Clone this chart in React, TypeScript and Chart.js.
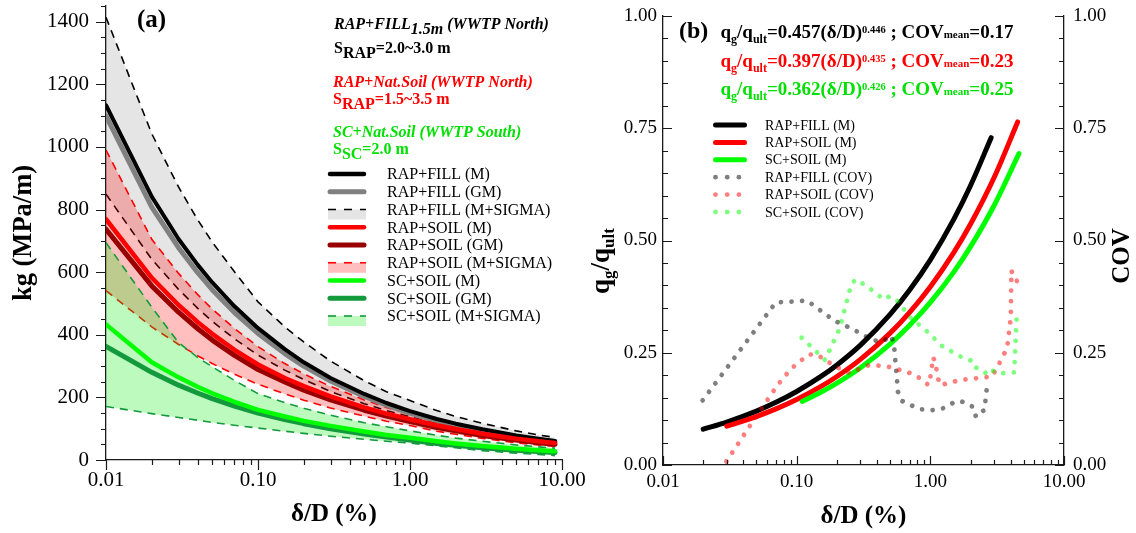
import React, { useEffect, useRef } from "react";
import { Chart, registerables } from "chart.js";

Chart.register(...registerables);

const SERIF = '"Liberation Serif", "Times New Roman", Times, serif';
const AXIS = "#1a1a1a";

// ---------- Panel (a): kg against δ/D ----------
const kgX = [0.01, 0.02, 0.03, 0.04, 0.05, 0.07, 0.1, 0.15, 0.2, 0.3, 0.5, 0.7, 1, 1.5, 2, 3, 5, 7, 9];
const fillM = [1133, 841, 706, 624, 567, 491, 421, 354, 312, 262, 211, 182, 156, 131, 116, 98, 78, 68, 61];
const fillGM = [1099, 808, 678, 599, 544, 471, 404, 340, 300, 252, 203, 175, 150, 126, 111, 94, 75, 65, 58];
const fillUp = [1414, 1042, 872, 768, 696, 601, 505, 425, 377, 316, 253, 218, 190, 158, 139, 117, 93, 80, 72];
const fillLo = [849, 641, 545, 485, 443, 387, 335, 287, 257, 219, 180, 158, 138, 115, 102, 85, 68, 59, 52];
const soilM = [769, 582, 495, 441, 403, 352, 305, 262, 236, 203, 168, 148, 130, 111, 99, 84, 68, 60, 54];
const soilGM = [737, 556, 472, 420, 383, 334, 289, 249, 223, 192, 159, 140, 123, 104, 93, 78, 64, 55, 50];
const soilUp = [990, 705, 596, 529, 482, 420, 362, 308, 275, 235, 192, 168, 146, 125, 112, 96, 79, 69, 63];
const soilLo = [541, 425, 369, 333, 308, 274, 242, 211, 191, 166, 140, 124, 110, 92, 82, 69, 55, 48, 43];
const scM = [433, 312, 264, 234, 213, 186, 160, 139, 125, 109, 91, 80, 71, 60, 53, 45, 36, 31, 28];
const scGM = [363, 280, 239, 214, 196, 172, 150, 129, 116, 100, 83, 73, 64, 53, 47, 39, 31, 27, 24];
const scUp = [694, 488, 375, 328, 298, 254, 212, 183, 165, 143, 119, 106, 93, 79, 70, 60, 48, 42, 38];
const scLo = [171, 148, 136, 127, 120, 111, 102, 92, 85, 76, 66, 60, 54, 45, 39, 30, 22, 18, 14];

// ---------- Panel (b): qg/qult and COV against δ/D ----------
const fillQX = [0.02, 0.03, 0.05, 0.07, 0.1, 0.15, 0.2, 0.3, 0.5, 0.7, 1, 1.5, 2, 2.85];
const fillQ = [0.0798, 0.0957, 0.1201, 0.1396, 0.1637, 0.1961, 0.2229, 0.2671, 0.3355, 0.3898, 0.457, 0.5476, 0.6225, 0.729];
const soilQX = [0.03, 0.05, 0.07, 0.1, 0.15, 0.2, 0.3, 0.5, 0.7, 1, 1.5, 2, 3, 4.5];
const soilQ = [0.0864, 0.1079, 0.1249, 0.1458, 0.1739, 0.1971, 0.2352, 0.2937, 0.34, 0.397, 0.4736, 0.5367, 0.6402, 0.764];
const scQX = [0.11, 0.15, 0.2, 0.3, 0.5, 0.7, 1, 1.5, 2, 3, 4.6];
const scQ = [0.1414, 0.1613, 0.1824, 0.2168, 0.2694, 0.311, 0.362, 0.4302, 0.4863, 0.578, 0.6935];

const fillCovX = [0.0198, 0.0698, 0.12, 0.19, 0.265, 0.37, 0.44, 0.51, 0.535, 0.573, 0.61, 0.72, 0.85, 1.02, 1.22, 1.42, 1.62, 1.79, 2.1, 2.19, 2.24, 2.54, 2.64, 2.77];
const fillCov = [0.144, 0.362, 0.366, 0.322, 0.302, 0.278, 0.275, 0.288, 0.267, 0.163, 0.143, 0.133, 0.124, 0.122, 0.125, 0.136, 0.143, 0.14, 0.129, 0.108, 0.114, 0.122, 0.169, 0.169];
const soilCovX = [0.0298, 0.0463, 0.0715, 0.0906, 0.122, 0.142, 0.195, 0.25, 0.35, 0.42, 0.5, 0.72, 0.84, 0.97, 1.0, 1.05, 1.1, 1.13, 1.18, 1.39, 1.65, 2.2, 2.9, 3.3, 3.75, 4.0, 4.04, 4.3, 4.44];
const soilCov = [0.008, 0.094, 0.177, 0.214, 0.246, 0.246, 0.219, 0.205, 0.223, 0.221, 0.218, 0.204, 0.193, 0.178, 0.195, 0.24, 0.223, 0.198, 0.178, 0.183, 0.189, 0.193, 0.197, 0.228, 0.26, 0.33, 0.433, 0.414, 0.41];
const scCovX = [0.109, 0.163, 0.178, 0.21, 0.245, 0.258, 0.281, 0.38, 0.445, 0.5, 0.56, 0.705, 0.94, 1.24, 1.72, 2.04, 2.12, 2.4, 2.69, 2.93, 3.23, 4.24, 4.35, 4.42, 4.64];
const scCov = [0.2835, 0.234, 0.258, 0.305, 0.381, 0.405, 0.4135, 0.386, 0.369, 0.376, 0.3675, 0.329, 0.298, 0.2635, 0.24, 0.232, 0.218, 0.214, 0.2, 0.21, 0.204, 0.2065, 0.28, 0.324, 0.302];

// ---------- axis tick labels ----------
const decadeTicks = [0.01, 0.1, 1, 10];
const kgTicks = [0, 200, 400, 600, 800, 1000, 1200, 1400];
const ratioTicks = [0, 0.25, 0.5, 0.75, 1];

// ---------- colours ----------
const FILL_GRAY = "rgba(0,0,0,0.10)";
const FILL_RED = "rgba(255,0,0,0.25)";
const FILL_GREEN = "rgba(0,235,0,0.26)";
const GRAY = "#808080";
const DARK_RED = "#990000";
const DARK_GREEN = "#139a3c";
const LIME = "#00ff00";
const TEXT_GREEN = "#00e000";

const pts = (xs: number[], ys: number[]) => xs.map((x, i) => ({ x, y: ys[i] }));

function logMinors(): number[] {
  const out: number[] = [];
  for (const d of [0.01, 0.1, 1]) for (let k = 2; k <= 9; k++) out.push(+(d * k).toPrecision(3));
  return out;
}
function linMinors(count: number, step: number, every: number): number[] {
  const out: number[] = [];
  for (let i = 1; i <= count; i++) if (i % every !== 0) out.push(+(i * step).toFixed(4));
  return out;
}

const fixBox = (size: number) => (scale: any) => {
  if (scale.isHorizontal()) scale.height = size;
  else scale.width = size;
  scale.paddingLeft = 0;
  scale.paddingRight = 0;
  scale.paddingTop = 0;
  scale.paddingBottom = 0;
};
const setTicks = (values: number[]) => (scale: any) => {
  scale.ticks = values.map((v) => ({ value: v }));
};

type TickSpec = { id: string; major: number[]; minor: number[]; inward: boolean; majorLen: number; minorLen: number };
const tickMarks = (specs: TickSpec[]) => ({
  id: "tickMarks",
  afterDraw(chart: any) {
    const { ctx, chartArea } = chart;
    ctx.save();
    ctx.strokeStyle = AXIS;
    ctx.lineWidth = 1.2;
    ctx.beginPath();
    for (const s of specs) {
      const sc = chart.scales[s.id];
      const list: [number, number][] = [
        ...s.major.map((v) => [v, s.majorLen] as [number, number]),
        ...s.minor.map((v) => [v, s.minorLen] as [number, number]),
      ];
      for (const [v, len] of list) {
        const p = Math.round(sc.getPixelForValue(v)) + 0.5;
        if (sc.isHorizontal()) {
          const y = chartArea.bottom;
          ctx.moveTo(p, y);
          ctx.lineTo(p, y + (s.inward ? -len : len));
        } else if (sc.position === "left") {
          const x = chartArea.left;
          ctx.moveTo(x, p);
          ctx.lineTo(x + (s.inward ? len : -len), p);
        } else {
          const x = chartArea.right;
          ctx.moveTo(x, p);
          ctx.lineTo(x + (s.inward ? -len : len), p);
        }
      }
    }
    ctx.stroke();
    ctx.restore();
  },
});

type Run = { t: string; size: number; style?: string; dy?: number };
function drawRuns(ctx: CanvasRenderingContext2D, x: number, y: number, runs: Run[], color: string) {
  let cx = x;
  ctx.fillStyle = color;
  ctx.textBaseline = "alphabetic";
  ctx.textAlign = "left";
  for (const r of runs) {
    ctx.font = `${r.style ?? "bold"} ${r.size}px ${SERIF}`;
    ctx.fillText(r.t, cx, y + (r.dy ?? 0));
    cx += ctx.measureText(r.t).width;
  }
  return cx - x;
}
function runsWidth(ctx: CanvasRenderingContext2D, runs: Run[]) {
  let w = 0;
  for (const r of runs) {
    ctx.font = `${r.style ?? "bold"} ${r.size}px ${SERIF}`;
    w += ctx.measureText(r.t).width;
  }
  return w;
}

type LegendRow = { label: string; ds: number; box?: string; dots?: boolean };
type LegendGeom = { x0: number; x1: number; textX: number; y0: number; step: number; size: number };
function drawLegend(chart: any, rows: LegendRow[], g: LegendGeom) {
  const ctx: CanvasRenderingContext2D = chart.ctx;
  rows.forEach((r, i) => {
    const y = g.y0 + i * g.step;
    const d: any = chart.data.datasets[r.ds];
    ctx.save();
    if (r.box) {
      ctx.fillStyle = r.box;
      ctx.fillRect(g.x0 - 2, y, g.x1 - g.x0 + 4, 10);
    }
    if (r.dots) {
      ctx.fillStyle = d.borderColor;
      for (let k = 0; k < 3; k++) {
        ctx.beginPath();
        ctx.arc(g.x0 + k * 11.7, y, 2.4, 0, Math.PI * 2);
        ctx.fill();
      }
    } else if (d.borderDash && d.borderDash.length) {
      ctx.strokeStyle = d.borderColor;
      ctx.lineWidth = d.borderWidth;
      ctx.setLineDash([8, 8]);
      ctx.beginPath();
      ctx.moveTo(g.x0 - 2, y);
      ctx.lineTo(g.x1 + 2, y);
      ctx.stroke();
    } else {
      ctx.strokeStyle = d.borderColor;
      ctx.lineWidth = Math.max(d.borderWidth, 4.5);
      ctx.lineCap = "round";
      ctx.beginPath();
      ctx.moveTo(g.x0, y);
      ctx.lineTo(g.x1, y);
      ctx.stroke();
    }
    ctx.setLineDash([]);
    ctx.fillStyle = "#000";
    ctx.font = `${g.size}px ${SERIF}`;
    ctx.textBaseline = "alphabetic";
    ctx.textAlign = "left";
    ctx.fillText(r.label, g.textX, y + g.size * 0.33);
    ctx.restore();
  });
}

const solid = (label: string, data: any[], color: string, width: number, order: number, extra: any = {}) => ({
  label,
  data,
  borderColor: color,
  backgroundColor: color,
  borderWidth: width,
  pointRadius: 0,
  fill: false,
  order,
  tension: 0,
  borderCapStyle: "round",
  borderJoinStyle: "round",
  ...extra,
});
const dashed = (label: string, data: any[], color: string, order: number, fill: any = false, bg = "transparent") => ({
  label,
  data,
  borderColor: color,
  backgroundColor: bg,
  borderWidth: 1.6,
  borderDash: [8, 6],
  pointRadius: 0,
  fill,
  order,
  tension: 0,
});
const dotted = (label: string, data: any[], color: string, order: number) => ({
  label,
  data,
  yAxisID: "y2",
  borderColor: color,
  backgroundColor: color,
  borderWidth: 4.8,
  borderDash: [0.01, 10.6],
  borderCapStyle: "round",
  borderJoinStyle: "round",
  pointRadius: 0,
  fill: false,
  order,
  tension: 0,
});

const tickFont = (size: number) => ({ size, family: SERIF });
const titleFont = { size: 25, weight: "bold" as const, family: SERIF };

function configA(): any {
  const datasets = [
    dashed("RAP+FILL (M+SIGMA)", pts(kgX, fillUp), "#000", 90),
    dashed("RAP+FILL (M-SIGMA)", pts(kgX, fillLo), "#000", 91, "-1", FILL_GRAY),
    dashed("RAP+SOIL (M+SIGMA)", pts(kgX, soilUp), "#ff0000", 81),
    dashed("RAP+SOIL (M-SIGMA)", pts(kgX, soilLo), "#ff0000", 82, "-1", FILL_RED),
    dashed("SC+SOIL (M+SIGMA)", pts(kgX, scUp), DARK_GREEN, 71),
    dashed("SC+SOIL (M-SIGMA)", pts(kgX, scLo), DARK_GREEN, 72, "-1", FILL_GREEN),
    solid("RAP+FILL (GM)", pts(kgX, fillGM), GRAY, 5, 60),
    solid("RAP+FILL (M)", pts(kgX, fillM), "#000", 4, 59),
    solid("RAP+SOIL (GM)", pts(kgX, soilGM), DARK_RED, 5, 58),
    solid("RAP+SOIL (M)", pts(kgX, soilM), "#ff0000", 4.5, 57),
    solid("SC+SOIL (GM)", pts(kgX, scGM), DARK_GREEN, 5, 56),
    solid("SC+SOIL (M)", pts(kgX, scM), LIME, 4.5, 55),
  ];
  const legendRows: LegendRow[] = [
    { label: "RAP+FILL (M)", ds: 7 },
    { label: "RAP+FILL (GM)", ds: 6 },
    { label: "RAP+FILL (M+SIGMA)", ds: 0, box: FILL_GRAY },
    { label: "RAP+SOIL (M)", ds: 9 },
    { label: "RAP+SOIL (GM)", ds: 8 },
    { label: "RAP+SOIL (M+SIGMA)", ds: 2, box: FILL_RED },
    { label: "SC+SOIL (M)", ds: 11 },
    { label: "SC+SOIL (GM)", ds: 10 },
    { label: "SC+SOIL (M+SIGMA)", ds: 4, box: FILL_GREEN },
  ];
  const notes = {
    id: "notesA",
    afterDraw(chart: any) {
      const ctx: CanvasRenderingContext2D = chart.ctx;
      ctx.save();
      const bi = "italic bold";
      drawRuns(ctx, 137, 27, [{ t: "(a)", size: 25 }], "#000");
      drawRuns(ctx, 334, 28.5, [
        { t: "RAP+FILL", size: 16, style: bi },
        { t: "1.5m", size: 16, style: bi, dy: 5 },
        { t: " (WWTP North)", size: 16, style: bi },
      ], "#000");
      drawRuns(ctx, 334, 53, [
        { t: "S", size: 16 },
        { t: "RAP", size: 16, dy: 5 },
        { t: "=2.0~3.0 m", size: 16 },
      ], "#000");
      drawRuns(ctx, 333, 86.5, [{ t: "RAP+Nat.Soil (WWTP North)", size: 16, style: bi }], "#ff0000");
      drawRuns(ctx, 333, 104, [
        { t: "S", size: 16 },
        { t: "RAP", size: 16, dy: 5 },
        { t: "=1.5~3.5 m", size: 16 },
      ], "#ff0000");
      drawRuns(ctx, 333, 136.5, [{ t: "SC+Nat.Soil (WWTP South)", size: 16, style: bi }], TEXT_GREEN);
      drawRuns(ctx, 333, 153.5, [
        { t: "S", size: 16 },
        { t: "SC", size: 16, dy: 5 },
        { t: "=2.0 m", size: 16 },
      ], TEXT_GREEN);
      ctx.restore();
      drawLegend(chart, legendRows, { x0: 330, x1: 364, textX: 387, y0: 174, step: 17.75, size: 16 });
    },
  };
  return {
    type: "line",
    data: { datasets },
    options: {
      responsive: false,
      animation: false,
      events: [],
      layout: { padding: { left: 0, right: 28, top: 6, bottom: 0 } },
      plugins: { legend: { display: false }, tooltip: { enabled: false } },
      scales: {
        x: {
          type: "logarithmic",
          min: 0.01,
          max: 10,
          afterBuildTicks: setTicks(decadeTicks),
          afterFit: fixBox(73),
          grid: { display: false, drawTicks: false },
          border: { display: true, color: AXIS, width: 1.3 },
          ticks: { autoSkip: false, maxRotation: 0, padding: 8, color: "#000", font: tickFont(21), callback: (v: any) => Number(v).toFixed(2) },
          title: { display: true, text: "δ/D (%)", color: "#000", font: titleFont, padding: { top: 0, bottom: 3 } },
        },
        y: {
          type: "linear",
          min: 0,
          max: 1450,
          afterBuildTicks: setTicks(kgTicks),
          afterFit: fixBox(106),
          grid: { display: false, drawTicks: false },
          border: { display: true, color: AXIS, width: 1.3 },
          ticks: { autoSkip: false, padding: 17, color: "#000", font: tickFont(21), callback: (v: any) => String(v) },
          title: { display: true, text: "kg (MPa/m)", color: "#000", font: { ...titleFont, size: 26.5 }, padding: { top: 8, bottom: 0 } },
        },
      },
    },
    plugins: [
      tickMarks([
        { id: "x", major: decadeTicks, minor: logMinors(), inward: false, majorLen: 10, minorLen: 5 },
        { id: "y", major: kgTicks, minor: linMinors(29, 50, 4), inward: false, majorLen: 10, minorLen: 5 },
      ]),
      notes,
    ],
  };
}

function configB(): any {
  const datasets = [
    solid("RAP+FILL (M)", pts(fillQX, fillQ), "#000", 5, 10, { cubicInterpolationMode: "monotone" }),
    solid("RAP+SOIL (M)", pts(soilQX, soilQ), "#ff0000", 5, 9, { cubicInterpolationMode: "monotone" }),
    solid("SC+SOIL (M)", pts(scQX, scQ), LIME, 5, 8, { cubicInterpolationMode: "monotone" }),
    dotted("RAP+FILL (COV)", pts(fillCovX, fillCov), "rgba(0,0,0,0.5)", 3),
    dotted("RAP+SOIL (COV)", pts(soilCovX, soilCov), "rgba(255,0,0,0.5)", 2),
    dotted("SC+SOIL (COV)", pts(scCovX, scCov), "rgba(0,255,0,0.5)", 1),
  ];
  const legendRows: LegendRow[] = [
    { label: "RAP+FILL (M)", ds: 0 },
    { label: "RAP+SOIL (M)", ds: 1 },
    { label: "SC+SOIL (M)", ds: 2 },
    { label: "RAP+FILL (COV)", ds: 3, dots: true },
    { label: "RAP+SOIL (COV)", ds: 4, dots: true },
    { label: "SC+SOIL (COV)", ds: 5, dots: true },
  ];
  const equation = (a: string, b: string, cov: string): Run[] => [
    { t: "q", size: 19 },
    { t: "g", size: 12, dy: 5 },
    { t: "/q", size: 19 },
    { t: "ult", size: 12, dy: 5 },
    { t: `=${a}(δ/D)`, size: 19 },
    { t: b, size: 10.5, dy: -5 },
    { t: " ; COV", size: 19 },
    { t: "mean", size: 11 },
    { t: `=${cov}`, size: 19 },
  ];
  const notes = {
    id: "notesB",
    afterDraw(chart: any) {
      const ctx: CanvasRenderingContext2D = chart.ctx;
      ctx.save();
      drawRuns(ctx, 89, 37.5, [{ t: "(b)", size: 24 }], "#000");
      drawRuns(ctx, 130.5, 38, equation("0.457", "0.446", "0.17"), "#000");
      drawRuns(ctx, 130.5, 66.5, equation("0.397", "0.435", "0.23"), "#ff0000");
      drawRuns(ctx, 130.5, 95, equation("0.362", "0.426", "0.25"), TEXT_GREEN);

      // left axis title with subscripts, reading upwards
      const yTitle: Run[] = [
        { t: "q", size: 27 },
        { t: "g", size: 17, dy: 5 },
        { t: "/q", size: 27 },
        { t: "ult", size: 17, dy: 5 },
      ];
      ctx.save();
      ctx.translate(19, 261);
      ctx.rotate(-Math.PI / 2);
      drawRuns(ctx, -runsWidth(ctx, yTitle) / 2, 0, yTitle, "#000");
      ctx.restore();

      // right axis title
      ctx.save();
      ctx.translate(533, 256);
      ctx.rotate(-Math.PI / 2);
      ctx.font = `bold 25px ${SERIF}`;
      ctx.fillStyle = "#000";
      ctx.textAlign = "center";
      ctx.textBaseline = "middle";
      ctx.fillText("COV", 0, 0);
      ctx.restore();
      ctx.restore();
      drawLegend(chart, legendRows, { x0: 125.5, x1: 154.5, textX: 175, y0: 125, step: 17.4, size: 14 });
    },
  };
  const ratioLabel = (v: any) => Number(v).toFixed(2);
  return {
    type: "line",
    data: { datasets },
    options: {
      responsive: false,
      animation: false,
      events: [],
      layout: { padding: { left: 0, right: 0, top: 16, bottom: 0 } },
      plugins: { legend: { display: false }, tooltip: { enabled: false } },
      scales: {
        x: {
          type: "logarithmic",
          min: 0.01,
          max: 10,
          afterBuildTicks: setTicks(decadeTicks),
          afterFit: fixBox(68),
          grid: { display: false, drawTicks: false },
          border: { display: true, color: AXIS, width: 1.3 },
          ticks: { autoSkip: false, maxRotation: 0, padding: 6, color: "#000", font: tickFont(19), callback: ratioLabel },
          title: { display: true, text: "δ/D (%)", color: "#000", font: titleFont, padding: { top: 0, bottom: 1 } },
        },
        y: {
          type: "linear",
          position: "left",
          min: 0,
          max: 1,
          afterBuildTicks: setTicks(ratioTicks),
          afterFit: fixBox(73),
          grid: { display: false, drawTicks: false },
          border: { display: true, color: AXIS, width: 1.3 },
          ticks: { autoSkip: false, padding: 6, color: "#000", font: tickFont(19), callback: ratioLabel },
        },
        y2: {
          type: "linear",
          position: "right",
          min: 0,
          max: 1,
          afterBuildTicks: setTicks(ratioTicks),
          afterFit: fixBox(72),
          grid: { display: false, drawTicks: false },
          border: { display: true, color: AXIS, width: 1.3 },
          ticks: { autoSkip: false, padding: 9, color: "#000", font: tickFont(19), callback: ratioLabel },
        },
      },
    },
    plugins: [
      tickMarks([
        { id: "x", major: decadeTicks, minor: logMinors(), inward: true, majorLen: 9, minorLen: 5 },
        { id: "y", major: ratioTicks, minor: linMinors(19, 0.05, 5), inward: true, majorLen: 9, minorLen: 5 },
        { id: "y2", major: ratioTicks, minor: linMinors(19, 0.05, 5), inward: true, majorLen: 9, minorLen: 5 },
      ]),
      notes,
    ],
  };
}

export default function App() {
  const aRef = useRef<HTMLCanvasElement>(null);
  const bRef = useRef<HTMLCanvasElement>(null);
  useEffect(() => {
    Chart.defaults.font.family = SERIF;
    const a = new Chart(aRef.current as HTMLCanvasElement, configA());
    const b = new Chart(bRef.current as HTMLCanvasElement, configB());
    return () => {
      a.destroy();
      b.destroy();
    };
  }, []);
  return (
    <div style={{ position: "absolute", left: 0, top: 0, width: 1136, height: 533, background: "#fff", overflow: "hidden" }}>
      <canvas ref={aRef} width={590} height={533} style={{ position: "absolute", left: 0, top: 0, width: 590, height: 533 }} />
      <canvas ref={bRef} width={546} height={533} style={{ position: "absolute", left: 590, top: 0, width: 546, height: 533 }} />
    </div>
  );
}
